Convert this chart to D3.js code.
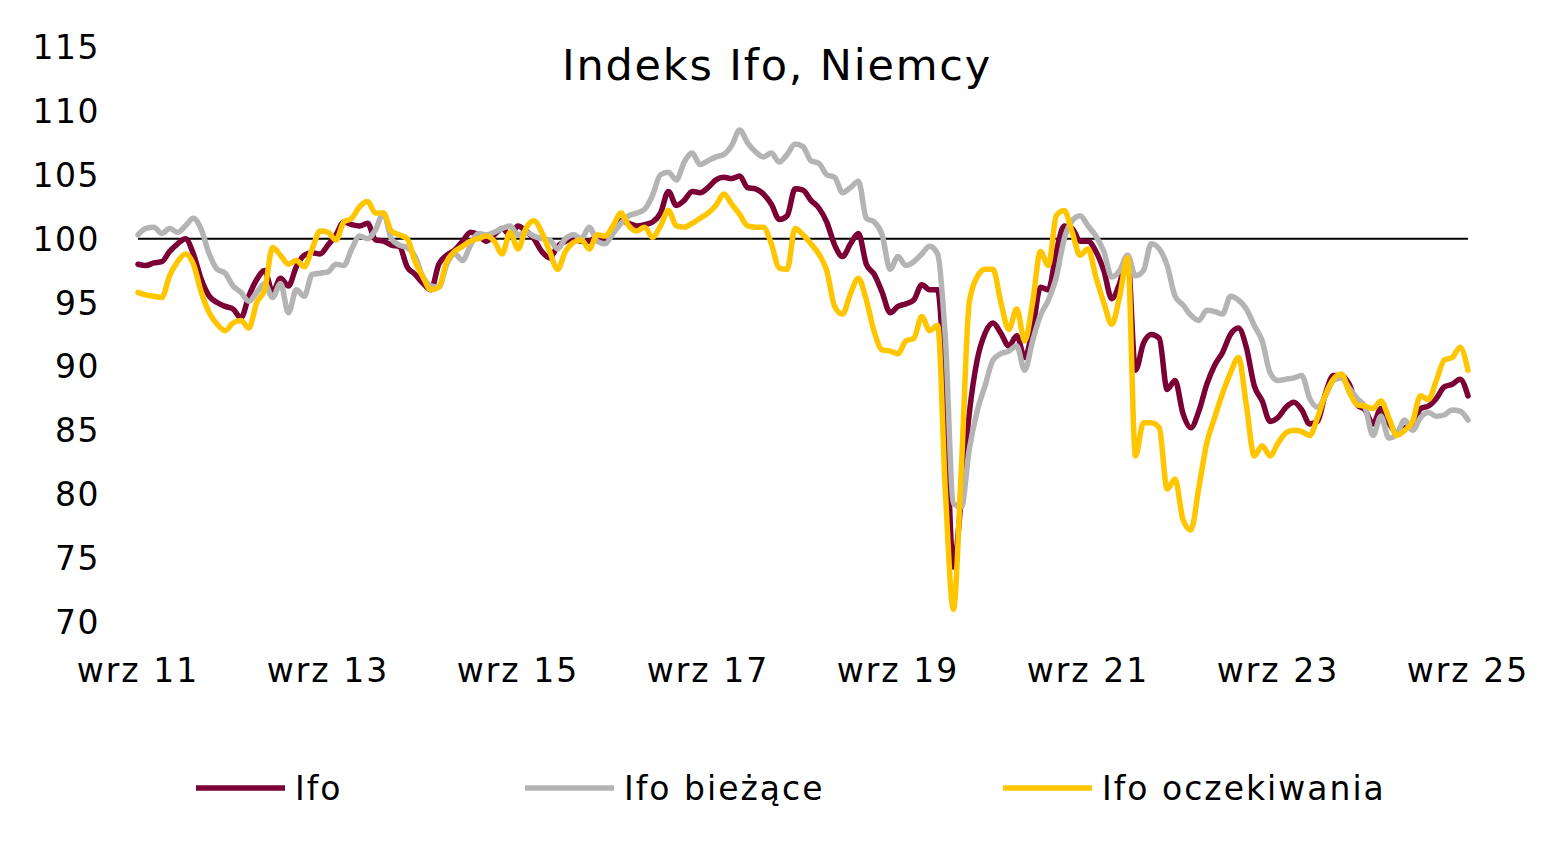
<!DOCTYPE html>
<html>
<head>
<meta charset="utf-8">
<script src="https://cdn.jsdelivr.net/npm/d3@7"></script>
<style>
  body { margin: 0; background: #fff; }
  svg { font-family: "DejaVu Sans", Verdana, sans-serif; }
</style>
</head>
<body>
<svg id="chart" width="1555" height="845"></svg>
<script>
// monthly values, wrz 2011 .. wrz 2025
const ifo = [
  98.0, 97.9, 98.1, 98.2, 99.0, 99.6, 100.0, 98.8, 96.8, 95.5, 95.0, 94.7,
  94.5, 93.8, 95.5, 96.8, 97.5, 95.8, 96.9, 96.3, 97.8, 98.7, 98.9, 98.8,
  99.5, 100.3, 101.3, 101.1, 101.0, 101.2, 99.9, 99.8, 99.5, 99.4, 97.8, 97.2,
  96.5, 96.0, 98.0, 98.7, 99.1, 99.8, 100.5, 100.3, 99.8, 100.3, 100.8, 100.3,
  101.0, 100.6, 100.0, 99.0, 98.5, 99.4, 99.8, 100.0, 99.8, 99.8, 100.2, 99.8,
  100.8, 101.4, 101.2, 101.0, 101.1, 101.3, 102.0, 103.7, 102.6, 103.0, 103.7, 103.6,
  104.0, 104.6, 104.8, 104.7, 104.9, 104.0, 103.9, 103.5, 102.7, 101.5, 101.8, 103.9,
  103.8, 103.0, 102.4, 101.3, 99.5, 98.6, 99.6, 100.4, 98.0, 97.2, 95.8, 94.2,
  94.7, 94.9, 95.2, 96.4, 96.0, 96.0, 87.0, 74.3, 79.7, 86.3, 90.5, 92.6,
  93.4, 92.6, 91.6, 92.4, 90.7, 92.9, 96.2, 96.0, 99.0, 101.0, 100.8, 99.8,
  99.8, 99.0, 97.5, 95.3, 96.5, 98.6, 89.7, 91.8, 92.5, 92.2, 88.2, 88.9,
  86.3, 85.2, 86.5, 88.6, 90.1, 91.1, 92.5, 93.0, 91.5, 88.5, 87.3, 85.7,
  86.0, 86.8, 87.2, 86.6, 85.5, 85.7, 87.9, 89.3, 89.3, 88.6, 87.0, 86.6,
  85.5, 86.7, 85.6, 84.8, 85.2, 85.3, 86.7, 86.9, 87.5, 88.4, 88.6, 89.0, 87.7
];
const ifoCurrent = [
  100.3, 100.8, 100.9, 100.4, 100.8, 100.5, 101.0, 101.6, 100.7, 98.8, 97.6, 97.3,
  96.3, 95.8, 95.1, 95.8, 96.5, 95.4, 96.5, 94.2, 96.0, 95.5, 97.2, 97.3,
  97.4, 98.0, 97.9, 99.2, 100.2, 100.0, 100.7, 102.0, 100.0, 99.5, 99.3, 98.6,
  97.0, 96.3, 96.2, 98.0, 98.8, 98.3, 99.5, 100.4, 100.3, 100.5, 100.8, 101.0,
  100.3, 100.5, 100.2, 100.0, 99.9, 99.2, 100.0, 100.3, 100.0, 100.9, 99.8, 99.6,
  100.4, 101.2, 101.8, 102.0, 102.3, 103.4, 105.0, 105.2, 104.6, 106.0, 106.7, 105.8,
  106.1, 106.4, 106.6, 107.3, 108.5, 107.5, 106.8, 106.4, 106.7, 106.0, 106.6, 107.4,
  107.2, 106.1, 105.9, 105.0, 104.8, 103.6, 104.0, 104.5, 101.6, 101.3, 100.3, 97.6,
  98.6, 97.9, 98.2, 98.8, 99.4, 98.8, 92.0, 79.3, 79.0, 83.5, 86.5, 88.5,
  90.5, 91.0, 91.2, 91.6, 89.7, 92.0, 94.0, 95.2, 97.0, 100.0, 101.4, 101.8,
  101.0, 100.2, 99.0, 97.0, 97.5, 98.7, 97.1, 97.5, 99.6, 99.2, 97.9, 95.5,
  94.8, 94.0, 93.6, 94.4, 94.3, 94.1, 95.5, 95.2, 94.5, 93.2, 92.0, 89.5,
  88.9, 89.0, 89.1, 89.3, 87.5, 86.8, 87.7, 88.9, 89.1, 88.3, 87.5, 86.8,
  84.6, 86.1, 84.4, 84.7, 85.8, 85.0, 86.0, 86.4, 86.1, 86.2, 86.6, 86.5, 85.8
];
const ifoExpect = [
  95.8, 95.6, 95.5, 95.4, 97.1, 98.2, 98.8, 98.0, 95.8, 94.2, 93.3, 92.8,
  93.4, 93.6, 93.0, 95.0, 96.0, 99.3, 98.7, 98.0, 98.3, 97.8, 99.2, 100.6,
  100.5, 99.9, 101.3, 101.6, 102.5, 102.9, 102.0, 102.0, 100.6, 100.3, 100.0, 98.2,
  97.0, 96.0, 96.2, 98.2, 99.0, 99.4, 99.8, 100.0, 100.2, 99.8, 98.8, 100.5,
  99.2, 100.8, 101.4, 100.5, 99.0, 97.6, 99.0, 99.7, 99.9, 99.2, 100.3, 100.2,
  101.0, 102.0, 101.0, 100.6, 100.9, 100.1, 101.0, 102.2, 101.0, 100.9, 101.2, 101.6,
  102.0, 102.6, 103.5, 102.7, 101.9, 101.0, 100.9, 100.9, 99.6, 97.7, 97.6, 100.8,
  100.3, 99.6, 98.8, 97.5, 94.7, 94.1, 95.7, 96.9, 95.2, 92.7, 91.3, 91.2,
  91.0, 92.0, 92.2, 93.9, 92.8, 93.2, 80.0, 71.0, 82.0, 95.0, 97.0, 97.6,
  97.6, 95.0, 92.9, 94.5, 92.0, 95.0, 99.0, 97.9, 101.8, 102.2, 100.5, 98.7,
  99.2, 97.0, 95.0, 93.3, 95.5, 98.5, 83.0, 85.6, 85.6, 85.2, 80.4, 81.2,
  78.0, 77.2, 80.5, 84.0, 86.0, 87.9, 89.5, 90.7, 87.0, 83.0, 83.8, 83.0,
  84.0, 84.8, 85.0, 84.9, 84.6, 86.0, 87.8, 89.0, 89.4, 88.0, 87.0, 86.9,
  86.7, 87.3, 86.0, 84.6, 85.0, 85.7, 87.7, 87.4, 88.9, 90.5, 90.7, 91.5, 89.7
];
const yTicks = [70, 75, 80, 85, 90, 95, 100, 105, 110, 115];
const xTickLabels = ["wrz 11", "wrz 13", "wrz 15", "wrz 17", "wrz 19", "wrz 21", "wrz 23", "wrz 25"];
const seriesNames = ["Ifo", "Ifo bieżące", "Ifo oczekiwania"];
const colors = ["#7B0036", "#B4B4B4", "#FFC600"];

const svg = d3.select("#chart");

const x = d3.scaleLinear().domain([0, ifo.length - 1]).range([138, 1468]);
const y = d3.scaleLinear().domain([70, 115]).range([622, 47]);

// title
svg.append("text")
  .attr("x", 777).attr("y", 80)
  .attr("text-anchor", "middle")
  .attr("font-size", 43)
  .attr("letter-spacing", 1.8)
  .text("Indeks Ifo, Niemcy");

// y axis labels
svg.append("g").selectAll("text")
  .data(yTicks).enter().append("text")
  .attr("x", 100).attr("y", d => y(d) + 12)
  .attr("text-anchor", "end")
  .attr("font-size", 33)
  .attr("letter-spacing", 1.5)
  .text(d => d);

// x axis labels
svg.append("g").selectAll("text")
  .data(xTickLabels).enter().append("text")
  .attr("x", (d, i) => x(i * 24)).attr("y", 682)
  .attr("text-anchor", "middle")
  .attr("font-size", 33)
  .attr("letter-spacing", 2)
  .text(d => d);

// reference line at 100
svg.append("line")
  .attr("x1", x(0)).attr("x2", x(ifo.length - 1))
  .attr("y1", y(100)).attr("y2", y(100))
  .attr("stroke", "#000").attr("stroke-width", 2);

const line = d3.line()
  .x((d, i) => x(i))
  .y(d => y(d))
  .curve(d3.curveMonotoneX);

const series = [ifo, ifoCurrent, ifoExpect];
svg.append("g").selectAll("path")
  .data(series).enter().append("path")
  .attr("d", line)
  .attr("fill", "none")
  .attr("stroke", (d, i) => colors[i])
  .attr("stroke-width", 5.5)
  .attr("stroke-linejoin", "round")
  .attr("stroke-linecap", "round");

// legend
const legendX = [196, 525, 1003];
const legend = svg.append("g").selectAll("g")
  .data(seriesNames).enter().append("g")
  .attr("transform", (d, i) => `translate(${legendX[i]},788)`);
legend.append("line")
  .attr("x1", 0).attr("x2", 89)
  .attr("stroke", (d, i) => colors[i])
  .attr("stroke-width", 5.5);
legend.append("text")
  .attr("x", 99).attr("y", 12)
  .attr("font-size", 33)
  .attr("letter-spacing", 2)
  .text(d => d);
</script>
</body>
</html>
